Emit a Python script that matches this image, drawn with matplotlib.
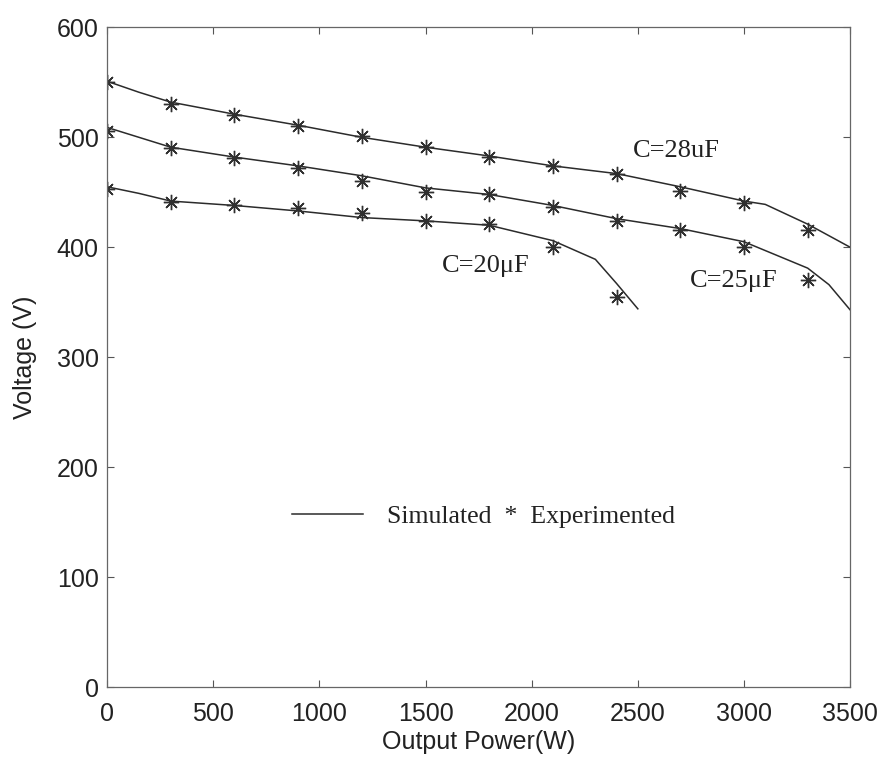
import numpy as np
import matplotlib.pyplot as plt

# experimental points (W, V)
exp_power = [0, 300, 600, 900, 1200, 1500, 1800, 2100, 2400, 2700, 3000, 3300]
exp_c28 = [550, 530, 520, 510, 501, 491, 482, 474, 467, 451, 440, 416]
exp_c25 = [506, 490, 481, 472, 460, 450, 448, 437, 424, 416, 400, 370]
exp_c20 = [453, 441, 438, 436, 431, 424, 421, 400, 355]

# simulated curves
sim_p28 = [0, 150, 300, 600, 900, 1200, 1500, 1800, 2100, 2400, 2700, 3000, 3100, 3300, 3500]
sim_c28 = [551, 541, 532, 521, 511, 500, 491, 483, 474, 467, 455, 442, 439, 421, 400]
sim_p25 = [0, 150, 300, 600, 900, 1200, 1500, 1800, 2100, 2400, 2700, 3000, 3300, 3400, 3500]
sim_c25 = [509, 500, 491, 482, 474, 465, 454, 448, 438, 426, 417, 405, 381, 366, 343]
sim_p20 = [0, 150, 300, 600, 900, 1200, 1500, 1800, 2100, 2300, 2400, 2500]
sim_c20 = [455, 449, 442, 438, 433, 427, 424, 420, 406, 389, 367, 344]

serif = 'Liberation Serif'
sans = 'Liberation Sans'

fig = plt.figure(figsize=(8.81, 7.6), dpi=100)
ax = fig.add_axes([0.1215, 0.096, 0.8435, 0.868])

line_col = '#2b2b2b'
ax.plot(sim_p28, sim_c28, color=line_col, lw=1.1)
ax.plot(sim_p25, sim_c25, color=line_col, lw=1.1)
ax.plot(sim_p20, sim_c20, color=line_col, lw=1.1)

mk = dict(marker=(8, 2, 0), ms=11, mew=1.0, color='#303030', ls='none')
ax.plot(exp_power, exp_c28, **mk)
ax.plot(exp_power, exp_c25, **mk)
ax.plot(exp_power[:len(exp_c20)], exp_c20, **mk)

ax.text(2478, 488, 'C=28uF', family=serif, fontsize=19, va='center', color='#222222')
ax.text(2746, 369, 'C=25\u03bcF', family=serif, fontsize=19, va='center', color='#222222')
ax.text(1578, 383, 'C=20\u03bcF', family=serif, fontsize=19, va='center', color='#222222')

# hand-drawn legend
ax.plot([0.249, 0.345], [0.263, 0.263], transform=ax.transAxes, color=line_col, lw=1.1)
ax.text(0.377, 0.258, 'Simulated  *  Experimented', transform=ax.transAxes,
        family=serif, fontsize=18.5, va='center', color='#222222')

ax.set_xlim(0, 3500)
ax.set_ylim(0, 600)
ax.set_xticks(np.arange(0, 3501, 500))
ax.set_yticks(np.arange(0, 601, 100))
ax.tick_params(direction='in', top=True, right=True, length=5, width=0.8,
               colors='#555555', labelcolor='#222222', labelsize=18)
ax.tick_params(axis='x', pad=11)
ax.tick_params(axis='y', pad=6)
for lab in ax.get_xticklabels() + ax.get_yticklabels():
    lab.set_family(sans)
for s in ax.spines.values():
    s.set_color('#666666')
    s.set_linewidth(0.9)

ax.set_xlabel('Output Power(W)', family=sans, fontsize=18, color='#222222', labelpad=3)
ax.set_ylabel('Voltage (V)', family=sans, fontsize=18, color='#222222', labelpad=14)

fig.savefig('out.png', dpi=100)
